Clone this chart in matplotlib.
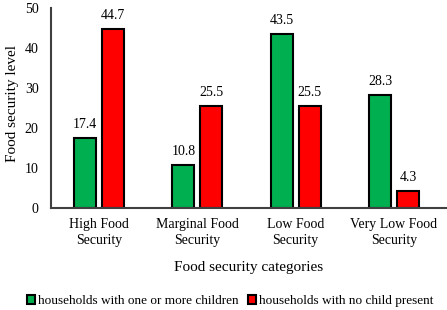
import matplotlib.pyplot as plt
import numpy as np

categories = ["High Food\nSecurity", "Marginal Food\nSecurity", "Low Food\nSecurity", "Very Low Food\nSecurity"]
with_children = [17.4, 10.8, 43.5, 28.3]
no_children = [44.7, 25.5, 25.5, 4.3]

plt.rcParams['font.family'] = 'Liberation Serif'

fig = plt.figure(figsize=(4.47, 3.10), dpi=100)
ax = fig.add_axes([51/447, (310-208)/310, 1 - 51/447, 200/310])

x = np.arange(len(categories))
w = 0.224
off = 0.142
b1 = ax.bar(x - off, with_children, w, color='#00B050', edgecolor='black', linewidth=1.5,
            label='households with one or more children')
b2 = ax.bar(x + off, no_children, w, color='#FF0000', edgecolor='black', linewidth=1.5,
            label='households with no child present')

for bars in (b1, b2):
    for r in bars:
        ax.text(r.get_x() + r.get_width() / 2, r.get_height() + 1.8, f"{r.get_height():.1f}",
                ha='center', va='bottom', fontsize=10)

ax.set_xlim(-0.49, 3.54)
ax.set_ylim(0, 50)
ax.set_yticks([0, 10, 20, 30, 40, 50])
ax.set_xticks(x)
ax.set_xticklabels(categories, fontsize=10, linespacing=1.35)
ax.tick_params(axis='y', labelsize=10, length=0, pad=9)
ax.tick_params(axis='x', length=0, pad=7)
for s in ('top', 'right'):
    ax.spines[s].set_visible(False)
ax.spines['left'].set_color('#404040')
ax.spines['bottom'].set_color('#404040')
ax.spines['left'].set_linewidth(1.5)
ax.spines['bottom'].set_linewidth(1.5)

ax.set_xlabel("Food security categories", fontsize=11, labelpad=10)
ax.set_ylabel("Food security level", fontsize=11)
ax.yaxis.set_label_coords(-0.082, 0.525)

fig.legend(loc='center', bbox_to_anchor=(230/447, 9/310), ncol=2, frameon=False, fontsize=9.5,
           handlelength=0.6, handleheight=0.6, handletextpad=0.2, columnspacing=0.75)

fig.savefig('out.png', dpi=100)
